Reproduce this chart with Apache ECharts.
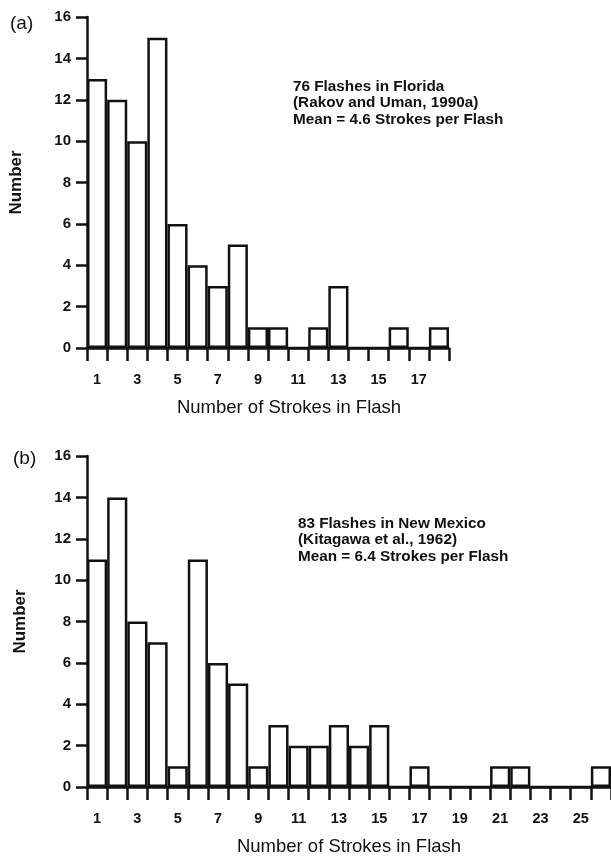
<!DOCTYPE html>
<html>
<head>
<meta charset="utf-8">
<script src="https://cdn.jsdelivr.net/npm/echarts@6/dist/echarts.min.js"></script>
<style>
html,body{margin:0;padding:0;background:#fff;}
#c{width:611px;height:858px;}
</style>
</head>
<body>
<div id="c"></div>
<script>
// ---- data ----
const categoriesA = ['1','2','3','4','5','6','7','8','9','10','11','12','13','14','15','16','17','18'];
const countsA = [13,12,10,15,6,4,3,5,1,1,0,1,3,0,0,1,0,1];
const categoriesB = ['1','2','3','4','5','6','7','8','9','10','11','12','13','14','15','16','17','18','19','20','21','22','23','24','25','26'];
const countsB = [11,14,8,7,1,11,6,5,1,3,2,2,3,2,3,0,1,0,0,0,1,1,0,0,0,1];
const yMin = 0, yMax = 16, yStep = 2;
const xTitle = 'Number of Strokes in Flash';
const yTitle = 'Number';
const noteA = ['76 Flashes in Florida', '(Rakov and Uman, 1990a)', 'Mean = 4.6 Strokes per Flash'];
const noteB = ['83 Flashes in New Mexico', '(Kitagawa et al., 1962)', 'Mean = 6.4 Strokes per Flash'];

const INK = '#111';
const FONT = '"Liberation Sans", Arial, Helvetica, sans-serif';
const LW = 2.5;

function xAxisCfg(idx, cats, padL, padR) {
  return {
    type: 'category', gridIndex: idx, data: cats, boundaryGap: true,
    axisLine: {show: true, lineStyle: {color: INK, width: LW}},
    axisTick: {show: true, interval: 0, length: 13, lineStyle: {color: INK, width: LW}},
    axisLabel: {interval: 1, margin: 24, color: INK, fontFamily: FONT, fontWeight: 'bold', fontSize: 14.5},
    splitLine: {show: false},
    name: xTitle, nameLocation: 'middle', nameGap: 50,
    nameTextStyle: {color: INK, fontFamily: FONT, fontSize: 18.5, padding: [0, padR, 0, padL]}
  };
}
function yAxisCfg(idx, gap) {
  return {
    type: 'value', gridIndex: idx, min: yMin, max: yMax, interval: yStep,
    axisLine: {show: true, lineStyle: {color: INK, width: LW}},
    axisTick: {show: true, length: 11, lineStyle: {color: INK, width: LW}},
    axisLabel: {margin: 16, color: INK, fontFamily: FONT, fontWeight: 'bold', fontSize: 15},
    splitLine: {show: false},
    name: yTitle, nameLocation: 'middle', nameGap: gap, nameRotate: 90,
    nameTextStyle: {color: INK, fontFamily: FONT, fontWeight: 'bold', fontSize: 17}
  };
}
function barSeries(idx, vals) {
  return {
    type: 'bar', xAxisIndex: idx, yAxisIndex: idx, data: vals,
    barCategoryGap: '0%', silent: true, animation: false,
    itemStyle: {color: '#fff', borderColor: INK, borderWidth: LW}
  };
}
function note(x, y, lines) {
  return {type: 'text', left: x, top: y, silent: true,
    style: {text: lines.join('\n'), fill: INK, font: 'bold 15.3px ' + FONT, lineHeight: 16.8}};
}

const chart = echarts.init(document.getElementById('c'), null, {renderer: 'canvas'});
chart.setOption({
  animation: false,
  backgroundColor: '#fff',
  grid: [
    {left: 84, top: 17, width: 365, height: 331},
    {left: 87, top: 456, width: 530, height: 331}
  ],
  xAxis: [xAxisCfg(0, categoriesA, 42, 0), xAxisCfg(1, categoriesB, 0, 0)],
  yAxis: [yAxisCfg(0, 62), yAxisCfg(1, 58)],
  series: [barSeries(0, countsA), barSeries(1, countsB)],
  graphic: [
    {type: 'text', left: 10, top: 14, silent: true, style: {text: '(a)', fill: INK, font: '19px ' + FONT}},
    {type: 'text', left: 13, top: 449, silent: true, style: {text: '(b)', fill: INK, font: '19px ' + FONT}},
    note(293, 78, noteA),
    note(298, 515, noteB)
  ]
});
</script>
</body>
</html>
